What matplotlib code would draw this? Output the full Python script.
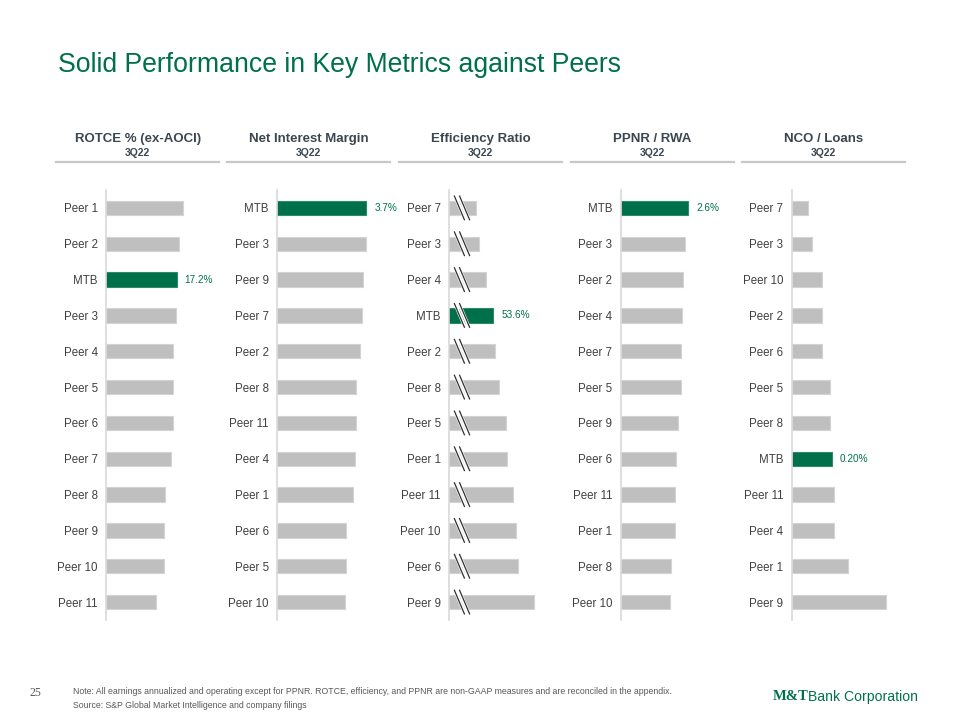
import matplotlib
matplotlib.use('Agg')
import matplotlib.pyplot as plt

# data
rotce_labels = ['Peer 1', 'Peer 2', 'MTB', 'Peer 3', 'Peer 4', 'Peer 5', 'Peer 6', 'Peer 7', 'Peer 8', 'Peer 9', 'Peer 10', 'Peer 11']
rotce_vals = [18.8, 17.8, 17.2, 17.0, 16.4, 16.4, 16.3, 15.8, 14.4, 14.2, 14.1, 12.2]

nim_labels = ['MTB', 'Peer 3', 'Peer 9', 'Peer 7', 'Peer 2', 'Peer 8', 'Peer 11', 'Peer 4', 'Peer 1', 'Peer 6', 'Peer 5', 'Peer 10']
nim_vals = [3.70, 3.67, 3.58, 3.51, 3.44, 3.29, 3.27, 3.24, 3.13, 2.87, 2.86, 2.83]

eff_labels = ['Peer 7', 'Peer 3', 'Peer 4', 'MTB', 'Peer 2', 'Peer 8', 'Peer 5', 'Peer 1', 'Peer 11', 'Peer 10', 'Peer 6', 'Peer 9']
eff_vals = [48.2, 49.3, 51.3, 53.6, 54.1, 55.2, 57.6, 57.9, 59.7, 60.5, 61.1, 66.2]

ppnr_labels = ['MTB', 'Peer 3', 'Peer 2', 'Peer 4', 'Peer 7', 'Peer 5', 'Peer 9', 'Peer 6', 'Peer 11', 'Peer 1', 'Peer 8', 'Peer 10']
ppnr_vals = [2.60, 2.47, 2.41, 2.35, 2.33, 2.31, 2.20, 2.12, 2.10, 2.09, 1.95, 1.90]

nco_labels = ['Peer 7', 'Peer 3', 'Peer 10', 'Peer 2', 'Peer 6', 'Peer 5', 'Peer 8', 'MTB', 'Peer 11', 'Peer 4', 'Peer 1', 'Peer 9']
nco_vals = [0.08, 0.10, 0.15, 0.15, 0.15, 0.19, 0.19, 0.20, 0.21, 0.21, 0.28, 0.47]

titles = ['ROTCE % (ex-AOCI)', 'Net Interest Margin', 'Efficiency Ratio', 'PPNR / RWA', 'NCO / Loans']
period = '3Q22'
mtb_fmt = ['{:.1f}%', '{:.1f}%', '{:.1f}%', '{:.1f}%', '{:.2f}%']

GREEN = '#00704A'
GRAY = '#BFBFBF'
TXT = '#404040'
HEAD = '#3B4650'

plt.rcParams['font.family'] = ['Liberation Sans', 'DejaVu Sans']

W, H = 960, 720
fig = plt.figure(figsize=(9.6, 7.2), dpi=100)

def fx(px):
    return px / W

def fy(py):
    return 1 - py / H

fig.text(fx(58), fy(65), 'Solid Performance in Key Metrics against Peers',
         fontsize=19.2, color=GREEN, va='center', ha='left')

panels = [
    (rotce_labels, rotce_vals, 106.3, 4.09, 0),
    (nim_labels, nim_vals, 277.3, 24.05, 0),
    (eff_labels, eff_vals, 449.0, 3.26, 40),
    (ppnr_labels, ppnr_vals, 620.7, 26.0, 0),
    (nco_labels, nco_vals, 791.7, 201.5, 0),
]

ax_w = 110
top, bot = 190, 620
for k, (labels, vals, x_px, scale, x0) in enumerate(panels):
    # header
    cx = x_px - 50 + 163 / 2
    fig.text(fx(cx), fy(139), titles[k], fontsize=9.5, fontweight='bold',
             color=HEAD, ha='center', va='center')
    fig.text(fx(cx), fy(153), period, fontsize=7.5, fontweight='bold',
             color=HEAD, ha='center', va='center')
    fig.add_artist(plt.Line2D([fx(x_px - 50), fx(x_px + 113)], [fy(162), fy(162)],
                              color='#C8C8C8', lw=1.6))

    ax = fig.add_axes([fx(x_px), fy(bot), ax_w / W, (bot - top) / H])
    n = len(vals)
    ys = list(range(n))
    colors = [GREEN if l == 'MTB' else GRAY for l in labels]
    edges = ['#2E8B68' if l == 'MTB' else '#D3D3D3' for l in labels]
    ax.barh(ys, vals, height=0.4, color=colors, edgecolor=edges, linewidth=0.8, zorder=2)
    ax.set_xlim(x0, x0 + ax_w / scale)
    ax.set_ylim(n - 0.5, -0.5)
    ax.set_yticks(ys)
    ax.set_yticklabels(labels, fontsize=8.3, color=TXT)
    ax.tick_params(axis='y', length=0, pad=6)
    ax.set_xticks([])
    for s in ['top', 'right', 'bottom']:
        ax.spines[s].set_visible(False)
    ax.spines['left'].set_color('#D9D9D9')
    ax.spines['left'].set_linewidth(1.2)
    ax.patch.set_alpha(0)

    i = labels.index('MTB')
    ax.text(vals[i] + 8 / scale, i, mtb_fmt[k].format(vals[i]), fontsize=7.2,
            color=GREEN, va='center', ha='left')

    if x0 > 0:
        # axis-break marks on every bar
        dx = 10 / scale
        for y in ys:
            for off in (0, 4 / scale):
                xs = [x0 + 6 / scale + off, x0 + 6 / scale + off + dx]
                ax.plot(xs, [y - 0.33, y + 0.33], color='white', lw=2.5, zorder=3,
                        solid_capstyle='butt')
            for off in (-0.6 / scale, 4.6 / scale):
                xs = [x0 + 6 / scale + off, x0 + 6 / scale + off + dx]
                ax.plot(xs, [y - 0.33, y + 0.33], color='#303030', lw=0.9, zorder=4)

# footer
fig.text(fx(30), fy(693), '25', fontsize=8.5, color='#595959', family=['Liberation Serif', 'DejaVu Serif'],
         ha='left', va='center')
fig.text(fx(73), fy(691), 'Note: All earnings annualized and operating except for PPNR. ROTCE, efficiency, and PPNR are non-GAAP measures and are reconciled in the appendix.',
         fontsize=6.35, color='#595959', ha='left', va='center')
fig.text(fx(73), fy(706), 'Source: S&P Global Market Intelligence and company filings',
         fontsize=6.35, color='#595959', ha='left', va='center')

fig.text(fx(773), fy(697), 'M&T', fontsize=10.5, fontweight='bold', color=GREEN,
         family=['Liberation Serif', 'DejaVu Serif'], ha='left', va='center')
fig.text(fx(808), fy(697), 'Bank Corporation', fontsize=10.1, color=GREEN,
         ha='left', va='center')

fig.savefig('out.png', dpi=100)
